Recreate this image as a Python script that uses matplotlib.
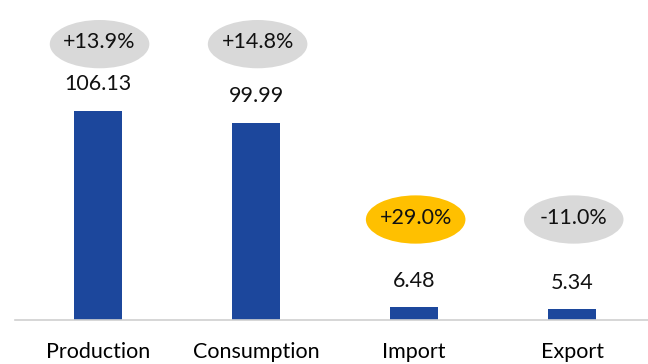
import matplotlib.pyplot as plt
from matplotlib.patches import Ellipse

categorias = ['Production', 'Consumption', 'Import', 'Export']
valores = [106.13, 99.99, 6.48, 5.34]
variacao = ['+13.9%', '+14.8%', '+29.0%', '-11.0%']
cor_balao = ['#D9D9D9', '#D9D9D9', '#FFC000', '#D9D9D9']
nivel_balao = [140, 140, 51, 51]

plt.rcParams['font.family'] = ['Lato', 'DejaVu Sans']

fig = plt.figure(figsize=(6.48, 3.64), dpi=100)
ax = fig.add_axes([15/648, 44/364, 633/648, 320/364])

x = range(len(categorias))
ax.bar(x, valores, width=0.30, color='#1C479C', zorder=2)

for i, v in enumerate(valores):
    ax.annotate(f'{v:.2f}', (i, v), xytext=(0, 12), textcoords='offset points',
                ha='center', va='bottom', fontsize=15.5, color='#111111')
    ax.add_patch(Ellipse((i + 0.01, nivel_balao[i]), 0.63, 24.5,
                         facecolor=cor_balao[i], edgecolor='none'))
    ax.text(i + 0.01, nivel_balao[i] + 1, variacao[i], ha='center', va='center',
            fontsize=15.5, color='#111111')

ax.set_xlim(-0.525, 3.48)
ax.set_ylim(0, 162.4)
ax.set_xticks(list(x))
ax.set_xticklabels(categorias, fontsize=15.5)
ax.tick_params(axis='x', length=0, pad=16)
ax.set_yticks([])
for lado in ['top', 'right', 'left']:
    ax.spines[lado].set_visible(False)
ax.spines['bottom'].set_color('#D0D0D0')
ax.spines['bottom'].set_linewidth(1.2)

fig.savefig('out.png', dpi=100)
